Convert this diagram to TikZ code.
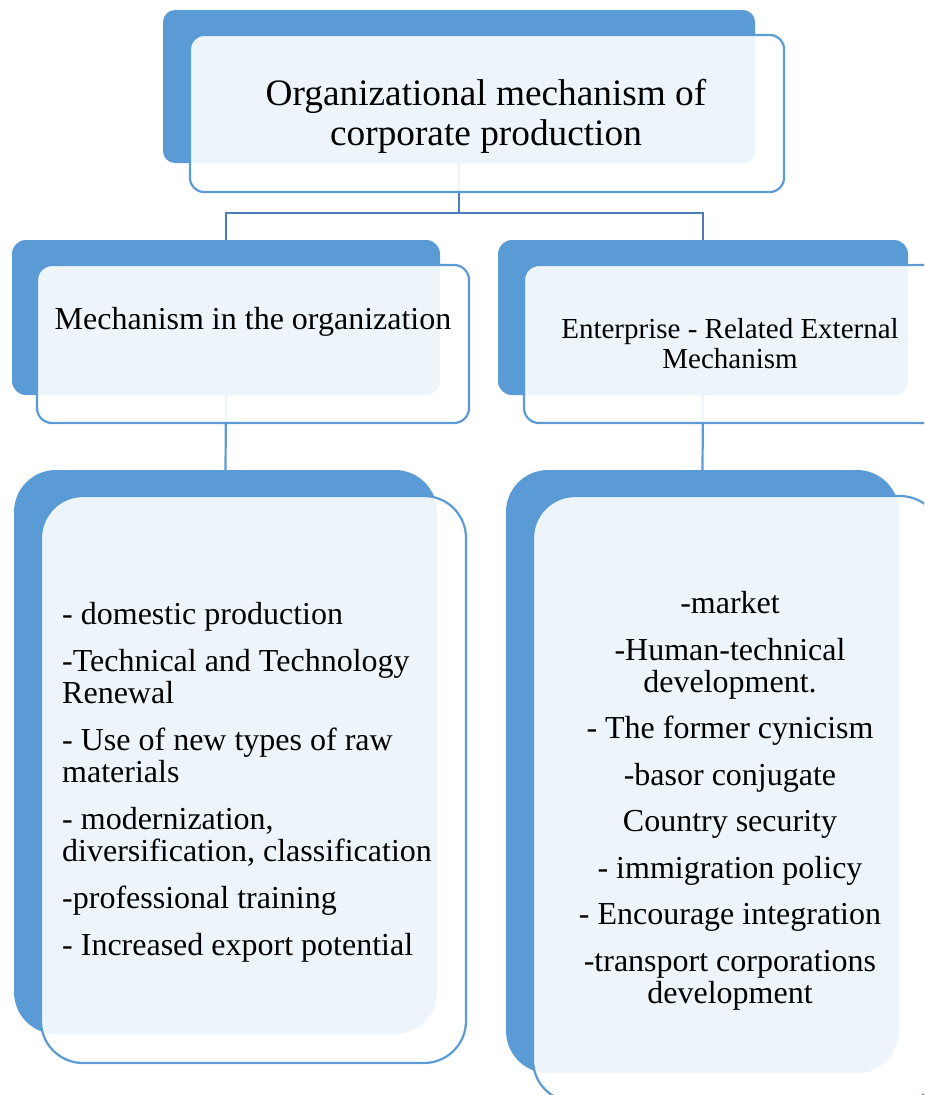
\documentclass[tikz,border=0pt]{standalone}
\usepackage{fontspec}
\setmainfont{Liberation Serif}
\definecolor{accent}{HTML}{5B9BD5}
\definecolor{linkdark}{HTML}{4A7EB8}
\tikzset{
  backbox/.style n args={3}{rectangle, fill=accent, draw=none, rounded corners=#1,
    minimum width=#2, minimum height=#3, inner sep=0pt, outer sep=0pt},
  frontbox/.style n args={3}{rectangle, fill=white, fill opacity=0.9, draw=accent,
    line width=2.2pt, rounded corners=#1, minimum width=#2, minimum height=#3,
    inner sep=0pt, outer sep=0pt},
  link/.style={draw=accent, line width=2.2pt},
  toplink/.style={draw=linkdark, line width=2.2pt},
  label/.style={inner sep=0pt, text=black},
}
\begin{document}
\begin{tikzpicture}[x=1pt,y=-1pt]
\useasboundingbox (0,0) rectangle (924,1095);
\clip (0,0) rectangle (924,1095);
% back (blue) boxes
\node[backbox={12pt}{592pt}{153pt}] (topback) at (459,86.5) {};
\node[backbox={14pt}{428pt}{155pt}] (leftback) at (226,317.5) {};
\node[backbox={14pt}{410pt}{155pt}] (rightback) at (703,317.5) {};
\node[backbox={42pt}{423pt}{564pt}] (botleftback) at (225.5,752) {};
\node[backbox={42pt}{393pt}{603pt}] (botrightback) at (702.5,771.5) {};
% connectors
\coordinate (junction) at (459,213);
\draw[toplink] (topback.south) -- (junction);
\draw[toplink] (leftback.north) |- (junction) -| (rightback.north);
\draw[link] (leftback.south) -- (botleftback.north);
\draw[link] (rightback.south) -- (botrightback.north);
% front (outlined) boxes
\node[frontbox={14pt}{594pt}{157pt}] (topfront) at (487,113.5) {};
\node[frontbox={15pt}{432pt}{158pt}] (leftfront) at (253,344) {};
\node[frontbox={15pt}{414pt}{158pt}] (rightfront) at (731,344) {};
\node[frontbox={42pt}{425pt}{567pt}] (botleftfront) at (253.5,779.5) {};
\node[frontbox={42pt}{409pt}{606pt}] (botrightfront) at (737.5,799) {};
% texts
\node[label, align=center, font=\fontsize{37.3}{40}\selectfont] (toptext) at (486,116)
  {Organizational mechanism of\\corporate production};
\node[label, font=\fontsize{32}{34}\selectfont] (lefttext) at (253,322)
  {Mechanism in the organization};
\node[label, align=center, font=\fontsize{29}{30}\selectfont] (righttext) at (730,343.5)
  {Enterprise - Related External\\Mechanism};
\node[label, anchor=west, align=left, font=\fontsize{32}{32}\selectfont] (botlefttext) at (62,782)
  {- domestic production\\[15pt]
   -Technical and Technology\\Renewal\\[15pt]
   - Use of new types of raw\\materials\\[15pt]
   - modernization,\\diversification, classification\\[15pt]
   -professional training\\[15pt]
   - Increased export potential};
\node[label, align=center, font=\fontsize{32}{32}\selectfont] (botrighttext) at (730,801)
  {-market\\[14.5pt]
   -Human-technical\\development.\\[14.5pt]
   - The former cynicism\\[14.5pt]
   -basor conjugate\\[14.5pt]
   Country security\\[14.5pt]
   - immigration policy\\[14.5pt]
   - Encourage integration\\[14.5pt]
   -transport corporations\\development};
\end{tikzpicture}
\end{document}
